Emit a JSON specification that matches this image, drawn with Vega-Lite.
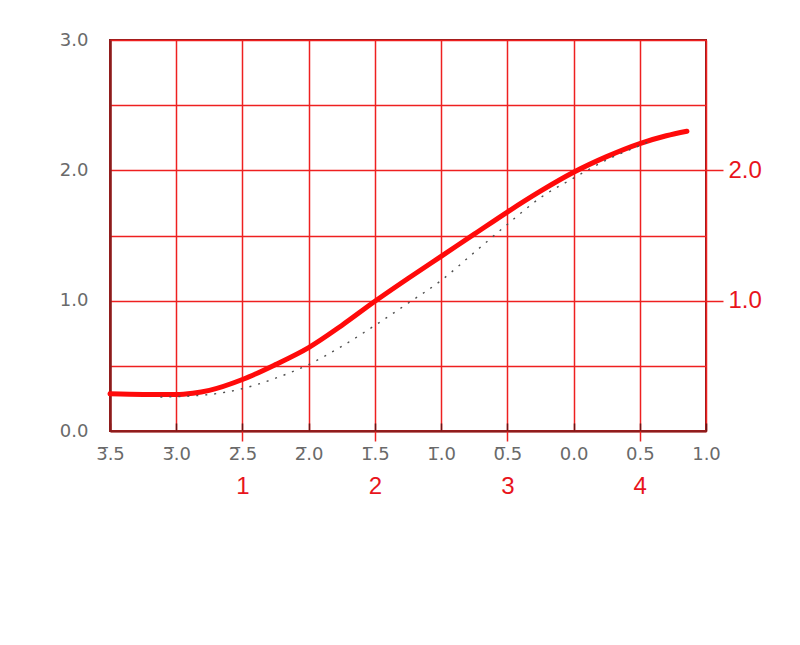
{
  "$schema": "https://vega.github.io/schema/vega-lite/v6.json",
  "width": 596,
  "height": 391,
  "autosize": "none",
  "padding": {"left": 110, "top": 40, "right": 94, "bottom": 214},
  "background": "white",
  "config": {
    "view": {"stroke": "#8b1c1c", "strokeWidth": 2},
    "axis": {"title": null}
  },
  "data": {
    "values": [
      {"series": "main", "logE": -3.5, "D": 0.285},
      {"series": "main", "logE": -3.25, "D": 0.28},
      {"series": "main", "logE": -3.0, "D": 0.28},
      {"series": "main", "logE": -2.875, "D": 0.29},
      {"series": "main", "logE": -2.75, "D": 0.312},
      {"series": "main", "logE": -2.5, "D": 0.395},
      {"series": "main", "logE": -2.25, "D": 0.51},
      {"series": "main", "logE": -2.0, "D": 0.64},
      {"series": "main", "logE": -1.75, "D": 0.81},
      {"series": "main", "logE": -1.5, "D": 0.995},
      {"series": "main", "logE": -1.25, "D": 1.17},
      {"series": "main", "logE": -1.0, "D": 1.34},
      {"series": "main", "logE": -0.75, "D": 1.51},
      {"series": "main", "logE": -0.5, "D": 1.68},
      {"series": "main", "logE": -0.25, "D": 1.84},
      {"series": "main", "logE": 0.0, "D": 1.985},
      {"series": "main", "logE": 0.25, "D": 2.105},
      {"series": "main", "logE": 0.5, "D": 2.205},
      {"series": "main", "logE": 0.7, "D": 2.265},
      {"series": "main", "logE": 0.856, "D": 2.30},
      {"series": "dotted", "logE": -3.12, "D": 0.26},
      {"series": "dotted", "logE": -2.75, "D": 0.28},
      {"series": "dotted", "logE": -2.5, "D": 0.325},
      {"series": "dotted", "logE": -2.25, "D": 0.405},
      {"series": "dotted", "logE": -2.0, "D": 0.51},
      {"series": "dotted", "logE": -1.75, "D": 0.65},
      {"series": "dotted", "logE": -1.5, "D": 0.81},
      {"series": "dotted", "logE": -1.25, "D": 0.98},
      {"series": "dotted", "logE": -1.0, "D": 1.155},
      {"series": "dotted", "logE": -0.75, "D": 1.37},
      {"series": "dotted", "logE": -0.5, "D": 1.585},
      {"series": "dotted", "logE": -0.25, "D": 1.79},
      {"series": "dotted", "logE": 0.0, "D": 1.94},
      {"series": "dotted", "logE": 0.25, "D": 2.08},
      {"series": "dotted", "logE": 0.5, "D": 2.19},
      {"series": "dotted", "logE": 0.59, "D": 2.23}
    ]
  },
  "resolve": {"axis": {"x": "independent", "y": "independent"}},
  "layer": [
    {
      "transform": [{"filter": "datum.series == 'main'"}],
      "mark": {"type": "line", "color": "#ff0a0a", "strokeWidth": 5, "interpolate": "monotone", "strokeCap": "round"},
      "encoding": {
        "x": {
          "field": "logE", "type": "quantitative",
          "scale": {"domain": [-3.5, 1.0], "nice": false, "zero": false},
          "axis": {
            "values": [-3.5, -3.0, -2.5, -2.0, -1.5, -1.0, -0.5, 0.0, 0.5, 1.0],
            "labelExpr": "datum.value < 0 ? floor(-datum.value + 0.001) + '\u0305' + '.' + (((-datum.value) % 1) > 0.25 ? '5' : '0') : format(datum.value, '.1f')",
            "labelFont": "DejaVu Sans", "labelFontSize": 18, "labelColor": "#6a6a6a",
            "labelPadding": 22, "labelFlush": false, "labelOverlap": false,
            "ticks": true, "tickSize": -8, "tickColor": "#6a1515", "tickWidth": 1.5,
            "domainColor": "#8b1c1c", "domainWidth": 2,
            "grid": true, "gridColor": "#ee2020", "gridWidth": 1.5, "gridOpacity": 1
          }
        },
        "y": {
          "field": "D", "type": "quantitative",
          "scale": {"domain": [0, 3], "nice": false},
          "axis": {
            "values": [0, 0.5, 1.0, 1.5, 2.0, 2.5, 3.0],
            "labelExpr": "datum.value % 1 == 0 ? format(datum.value, '.1f') : ''",
            "labelFont": "DejaVu Sans", "labelFontSize": 18, "labelColor": "#6a6a6a",
            "labelPadding": 22, "ticks": false, "labelFlush": false, "labelOverlap": false,
            "domainColor": "#8b1c1c", "domainWidth": 2.5,
            "grid": true, "gridColor": "#ee2020", "gridWidth": 1.5, "gridOpacity": 1
          }
        }
      }
    },
    {
      "transform": [{"filter": "datum.series == 'dotted'"}],
      "mark": {"type": "line", "color": "#505050", "strokeWidth": 1.4, "interpolate": "monotone", "strokeDash": [2, 7]},
      "encoding": {
        "x": {
          "field": "logE", "type": "quantitative",
          "axis": {
            "orient": "bottom",
            "values": [-2.5, -1.5, -0.5, 0.5],
            "labelExpr": "datum.value == -2.5 ? '1' : datum.value == -1.5 ? '2' : datum.value == -0.5 ? '3' : '4'",
            "labelFont": "Liberation Sans", "labelFontSize": 24, "labelColor": "#e8141c",
            "labelPadding": 33, "labelFlush": false,
            "tickSize": 10, "tickColor": "#ee2020", "tickWidth": 1.5,
            "domain": false, "grid": false
          }
        },
        "y": {
          "field": "D", "type": "quantitative",
          "axis": {
            "orient": "right",
            "values": [1.0, 2.0],
            "labelExpr": "format(datum.value, '.1f')",
            "labelFont": "Liberation Sans", "labelFontSize": 24, "labelColor": "#e8141c",
            "labelPadding": 5, "labelFlush": false,
            "tickSize": 17, "tickColor": "#ee2020", "tickWidth": 1.5,
            "domain": false, "grid": false
          }
        }
      }
    }
  ]
}
